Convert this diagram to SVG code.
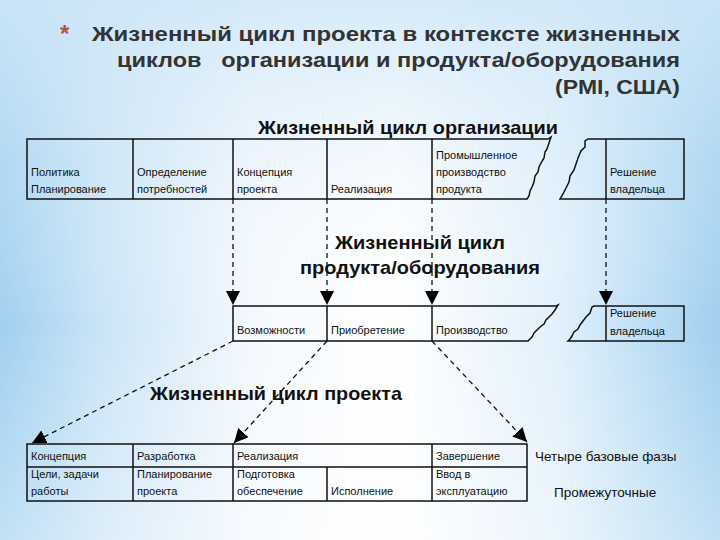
<svg xmlns="http://www.w3.org/2000/svg" width="720" height="540" viewBox="0 0 720 540">
  <defs>
    <linearGradient id="bgH" x1="0" y1="0" x2="1" y2="0">
      <stop offset="0" stop-color="#a0d0f0"/>
      <stop offset="0.14" stop-color="#cae4f7"/>
      <stop offset="0.35" stop-color="#f4f9fe"/>
      <stop offset="0.55" stop-color="#ffffff"/>
      <stop offset="0.78" stop-color="#e0f0fb"/>
      <stop offset="1" stop-color="#9fcfef"/>
    </linearGradient>
    <linearGradient id="bgV" x1="0" y1="0" x2="0" y2="1">
      <stop offset="0" stop-color="#cfe7f8" stop-opacity="0.85"/>
      <stop offset="0.3" stop-color="#dcedf9" stop-opacity="0.3"/>
      <stop offset="0.6" stop-color="#ffffff" stop-opacity="0"/>
      <stop offset="1" stop-color="#ffffff" stop-opacity="0.35"/>
    </linearGradient>
    <marker id="arr" markerUnits="userSpaceOnUse" markerWidth="14" markerHeight="14" viewBox="0 0 12 12" refX="12" refY="6" orient="auto">
      <path d="M0,0 L12,6 L0,12 Z" fill="#000"/>
    </marker>
    <style>
      .box { fill: none; stroke: #111; stroke-width: 1.5; stroke-linejoin: miter; }
      .ln { fill: none; stroke: #111; stroke-width: 1.5; }
      .dash { fill: none; stroke: #111; stroke-width: 1.3; stroke-dasharray: 5 4; }
      .t { font-family: "Liberation Sans", Arial, sans-serif; font-size: 11px; fill: #111; }
      .h { font-family: "Liberation Sans", Arial, sans-serif; font-size: 19px; font-weight: bold; fill: #111; text-anchor: middle; }
      .title { font-family: "Liberation Sans", Arial, sans-serif; font-size: 21px; font-weight: bold; fill: #333; text-anchor: end; }
      .side { font-family: "Liberation Sans", Arial, sans-serif; font-size: 13.5px; fill: #111; }
    </style>
  </defs>

  <rect x="0" y="0" width="720" height="540" fill="url(#bgH)"/>
  <rect x="0" y="0" width="720" height="540" fill="url(#bgV)"/>

  <g id="title">
    <text x="60" y="42" font-family="Liberation Sans, Arial, sans-serif" font-size="24" font-weight="bold" fill="#b4513a">*</text>
    <text class="title" x="680" y="41" textLength="588" lengthAdjust="spacingAndGlyphs">Жизненный цикл проекта в контексте жизненных</text>
    <text class="title" x="680" y="67" textLength="563" lengthAdjust="spacingAndGlyphs" xml:space="preserve">циклов   организации и продукта/оборудования</text>
    <text class="title" x="680" y="94" textLength="125" lengthAdjust="spacingAndGlyphs">(PMI, США)</text>
  </g>

  <g id="org-cycle">
    <text class="h" x="408" y="134" textLength="300" lengthAdjust="spacingAndGlyphs">Жизненный цикл организации</text>
    <path class="box" d="M27,139 H548 L551,137 L549,143 L547,149 L545,152 L544,158 L541,163 L539,167 L538,172 L535,176 L534,182 L532,187 L530,191 L529,196 L527,199 H27 Z"/>
    <path class="box" d="M684,139 H588 L585,141 L585,147 L581,151 L578,158 L576,164 L574,170 L570,176 L569,182 L566,188 L563,194 L560,199 H684 Z"/>
    <line class="ln" x1="133" y1="139" x2="133" y2="199"/>
    <line class="ln" x1="233" y1="139" x2="233" y2="199"/>
    <line class="ln" x1="327" y1="139" x2="327" y2="199"/>
    <line class="ln" x1="432" y1="139" x2="432" y2="199"/>
    <line class="ln" x1="606" y1="139" x2="606" y2="199"/>
    <text class="t" x="31" y="176">Политика</text>
    <text class="t" x="31" y="193">Планирование</text>
    <text class="t" x="137" y="176">Определение</text>
    <text class="t" x="137" y="193">потребностей</text>
    <text class="t" x="237" y="176">Концепция</text>
    <text class="t" x="237" y="193">проекта</text>
    <text class="t" x="331" y="193">Реализация</text>
    <text class="t" x="436" y="159">Промышленное</text>
    <text class="t" x="436" y="176">производство</text>
    <text class="t" x="436" y="193">продукта</text>
    <text class="t" x="610" y="176">Решение</text>
    <text class="t" x="610" y="193">владельца</text>
  </g>

  <g id="product-cycle">
    <text class="h" x="420" y="249" textLength="170" lengthAdjust="spacingAndGlyphs">Жизненный цикл</text>
    <text class="h" x="420" y="274" textLength="240" lengthAdjust="spacingAndGlyphs">продукта/оборудования</text>
    <path class="box" d="M233,306 H556 L558,305 L555,310 L552,314 L549,317 L546,320 L544,324 L540,327 L537,330 L534,333 L532,337 L530,339 L528,341 H233 Z"/>
    <path class="box" d="M684,306 H594 L592,307 L590,313 L586,317 L583,321 L580,325 L578,329 L574,332 L572,336 L570,339 L568,341 H684 Z"/>
    <line class="ln" x1="327" y1="306" x2="327" y2="341"/>
    <line class="ln" x1="432" y1="306" x2="432" y2="341"/>
    <line class="ln" x1="606" y1="306" x2="606" y2="341"/>
    <text class="t" x="237" y="334">Возможности</text>
    <text class="t" x="331" y="334">Приобретение</text>
    <text class="t" x="436" y="334">Производство</text>
    <text class="t" x="610" y="317">Решение</text>
    <text class="t" x="610" y="335">владельца</text>
  </g>

  <g id="project-cycle">
    <text class="h" x="276" y="400" textLength="252" lengthAdjust="spacingAndGlyphs">Жизненный цикл проекта</text>
    <rect class="box" x="27" y="444" width="500" height="57"/>
    <line class="ln" x1="27" y1="467" x2="527" y2="467"/>
    <line class="ln" x1="133" y1="444" x2="133" y2="501"/>
    <line class="ln" x1="233" y1="444" x2="233" y2="501"/>
    <line class="ln" x1="327" y1="467" x2="327" y2="501"/>
    <line class="ln" x1="432" y1="444" x2="432" y2="501"/>
    <text class="t" x="31" y="460">Концепция</text>
    <text class="t" x="137" y="460">Разработка</text>
    <text class="t" x="237" y="460">Реализация</text>
    <text class="t" x="436" y="460">Завершение</text>
    <text class="t" x="31" y="478">Цели, задачи</text>
    <text class="t" x="31" y="495">работы</text>
    <text class="t" x="137" y="478">Планирование</text>
    <text class="t" x="137" y="495">проекта</text>
    <text class="t" x="237" y="478">Подготовка</text>
    <text class="t" x="237" y="495">обеспечение</text>
    <text class="t" x="331" y="495">Исполнение</text>
    <text class="t" x="436" y="478">Ввод в</text>
    <text class="t" x="436" y="495">эксплуатацию</text>
  </g>

  <g id="legend">
    <text class="side" x="535" y="461">Четыре базовые фазы</text>
    <text class="side" x="554" y="497">Промежуточные</text>
  </g>

  <g id="connectors">
    <line class="dash" x1="233" y1="199" x2="233" y2="305" marker-end="url(#arr)"/>
    <line class="dash" x1="327" y1="199" x2="327" y2="305" marker-end="url(#arr)"/>
    <line class="dash" x1="432" y1="199" x2="432" y2="305" marker-end="url(#arr)"/>
    <line class="dash" x1="606" y1="199" x2="606" y2="305" marker-end="url(#arr)"/>
    <line class="dash" x1="233" y1="341" x2="32" y2="443" marker-end="url(#arr)"/>
    <line class="dash" x1="327" y1="341" x2="234" y2="443" marker-end="url(#arr)"/>
    <line class="dash" x1="432" y1="341" x2="527" y2="442" marker-end="url(#arr)"/>
  </g>
</svg>
